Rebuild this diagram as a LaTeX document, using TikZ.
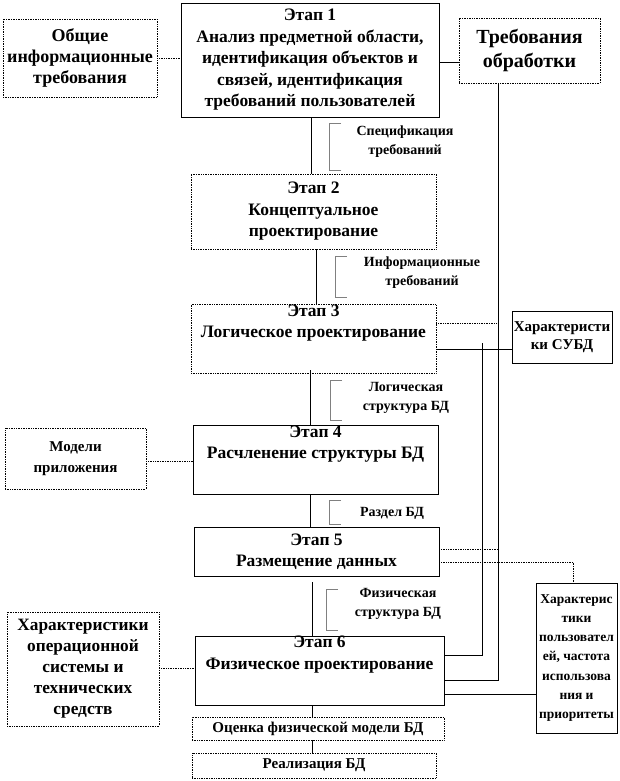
\documentclass[tikz,border=0pt]{standalone}
\usepackage{fontspec}
\setmainfont{Liberation Serif}
\tikzset{
  stage/.style={draw,align=center,font=\bfseries\fontsize{17.5}{21.5}\selectfont,inner sep=0pt,line width=0.7pt},
  dotbox/.style={stage,densely dotted},
  small/.style={align=center,font=\bfseries\fontsize{14}{19}\selectfont,inner sep=0pt},
  brk/.style={gray,line width=0.9pt},
  link/.style={line width=0.7pt},
  dlink/.style={line width=0.7pt,densely dotted}
}
\begin{document}
\begin{tikzpicture}[x=1pt,y=-1pt]
\useasboundingbox (0,0) rectangle (619,781);
% stages
\node[stage,minimum width=258,minimum height=114] (s1) at (310,60) {Этап 1\\Анализ предметной области,\\идентификация объектов и\\связей, идентификация\\требований пользователей};
\node[dotbox,minimum width=245,minimum height=75] (s2) at (313.5,211.5) {Этап 2\\Концептуальное\\проектирование};
\node[dotbox,minimum width=245,minimum height=69,anchor=north] (s3) at (313.5,304) {Этап 3\\Логическое проектирование\\[14pt]};
\node[stage,minimum width=245,minimum height=69,anchor=north] (s4) at (315.5,425) {Этап 4\\Расчленение структуры БД\\[14pt]};
\node[stage,minimum width=245,minimum height=49] (s5) at (316.5,551.5) {Этап 5\\Размещение данных};
\node[stage,minimum width=249,minimum height=66,anchor=north] (s6) at (319.5,636) {Этап 6\\Физическое проектирование\\[14pt]};
\node[dotbox,minimum width=252,minimum height=23,font=\bfseries\fontsize{15}{17}\selectfont] (ev) at (318,728.5) {Оценка физической модели БД};
\node[dotbox,minimum width=244,minimum height=25,font=\bfseries\fontsize{15}{17}\selectfont] (re) at (314,765.5) {Реализация БД};
% side boxes
\node[dotbox,minimum width=154,minimum height=78,font=\bfseries\fontsize{18}{21}\selectfont] (gen) at (80,58) {Общие\\информационные\\требования};
\node[dotbox,minimum width=141,minimum height=65,font=\bfseries\fontsize{20}{24}\selectfont] (proc) at (529.5,50.5) {Требования\\обработки};
\node[stage,minimum width=100,minimum height=52,font=\bfseries\fontsize{15}{18}\selectfont] (dbms) at (562,337) {Характеристи\\ки СУБД};
\node[dotbox,minimum width=141,minimum height=61,font=\bfseries\fontsize{15}{21}\selectfont] (app) at (75.5,458.5) {Модели\\приложения};
\node[dotbox,minimum width=152,minimum height=114,font=\bfseries\fontsize{17.3}{21}\selectfont] (os) at (83,669) {Характеристики\\операционной\\системы и\\технических\\средств};
\node[stage,minimum width=81,minimum height=150,font=\bfseries\fontsize{13.5}{19.3}\selectfont] (usr) at (576.5,658) {Характерис\\тики\\пользовател\\ей, частота\\использова\\ния и\\приоритеты};
% main chain
\draw[link] (s1.south -| 311,0) -- (s2.north -| 311,0);
\draw[link] (s2.south -| 316,0) -- (s3.north -| 316,0);
\draw[link] (310,370) -- (s4.north -| 310,0);
\draw[link] (s4.south -| 310,0) -- (s5.north -| 310,0);
\draw[link] (312,582) -- (s6.north -| 312,0);
\draw[link] (s6.south -| 312,0) -- (ev.north -| 312,0);
\draw[link] (ev.south -| 312,0) -- (re.north -| 312,0);
% side links
\draw[dlink] (gen.east) -- (s1.west |- gen.east);
\draw[link] (s1.east |- 0,62) -- (proc.west |- 0,62);
\draw[dlink] (app.east |- 0,461) -- (s4.west |- 0,461);
\draw[dlink] (os.east |- 0,668) -- (s6.west |- 0,668);
\coordinate (ra) at (498,83);
\coordinate (rb) at (482,343);
\draw[link] (ra) -- (ra |- 0,680) -- (s6.east |- 0,680);
\draw[dlink] (s3.east |- 0,323) -- (ra |- 0,323);
\draw[link] (s3.east |- 0,349) -- (dbms.west |- 0,349);
\draw[link] (rb) -- (rb |- 0,655) -- (s6.east |- 0,655);
\draw[dlink] (s5.east |- 0,549) -- (ra |- 0,549);
\draw[dlink] (s5.east |- 0,562) -- (573,562) -- (573,583);
\draw[link] (s6.east |- 0,694) -- (usr.west |- 0,694);
% flow labels
\draw[brk] (341,123) -- (329,123) -- (329,170) -- (341,170);
\node[small] (l1) at (405,141.5) {Спецификация\\требований};
\draw[brk] (347,256) -- (335,256) -- (335,297) -- (347,297);
\node[small] (l2) at (422,273) {Информационные\\требований};
\draw[brk] (342,380) -- (330,380) -- (330,420) -- (342,420);
\node[small] (l3) at (406,397.5) {Логическая\\структура БД};
\draw[brk] (341,500) -- (329,500) -- (329,524) -- (341,524);
\node[small] (l4) at (392,513) {Раздел БД};
\draw[brk] (338,589) -- (326,589) -- (326,630) -- (338,630);
\node[small] (l5) at (398,604) {Физическая\\структура БД};
\end{tikzpicture}
\end{document}
